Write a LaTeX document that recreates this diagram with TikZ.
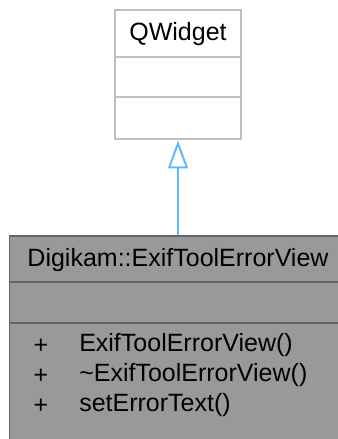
\documentclass[tikz,border=0pt]{standalone}
\usepackage{fontspec}
\setmainfont{Liberation Sans}
\usetikzlibrary{arrows.meta}
\definecolor{edgeblue}{HTML}{63B8FF}
\definecolor{classfill}{HTML}{999999}
\definecolor{classedge}{HTML}{666666}
\definecolor{baseedge}{HTML}{BFBFBF}
\begin{document}
\begin{tikzpicture}[x=0.75pt, y=-0.75pt,
    every node/.style={font=\fontsize{18.75}{22}\selectfont, inner sep=0pt},
    basebox/.style={draw=baseedge, fill=white, line width=1.2pt, minimum width=94.5pt, minimum height=96.75pt},
    viewbox/.style={draw=classedge, fill=classfill, line width=1.2pt, minimum width=248.6pt, minimum height=154.5pt},
    member/.style={anchor=west}]
  \useasboundingbox (0,0) rectangle (338,439);
  % base class QWidget
  \node[basebox] (base) at (178,74.5) {};
  \node (basename) at (178,34) {QWidget};
  \draw[baseedge, line width=1.2pt] (base.west |- 0,57) -- (base.east |- 0,57);
  \draw[baseedge, line width=1.2pt] (base.west |- 0,97) -- (base.east |- 0,97);
  % derived class
  \node[viewbox] (view) at (175.25,339) {};
  \node (viewname) at (178,260) {Digikam::ExifToolErrorView};
  \draw[classedge, line width=1.2pt] (view.west |- 0,282) -- (view.east |- 0,282);
  \draw[classedge, line width=1.2pt] (view.west |- 0,323) -- (view.east |- 0,323);
  % members
  \node (p1) at (41,346) {+};
  \node[member] (m1) at (79,345) {ExifToolErrorView()};
  \node (p2) at (41,376) {+};
  \node[member] (m2) at (79,375) {\textasciitilde ExifToolErrorView()};
  \node (p3) at (41,406) {+};
  \node[member] (m3) at (79,405) {setErrorText()};
  % inheritance
  \draw[edgeblue, line width=1.5pt, -{Triangle[open, length=21pt, width=15pt]}]
    (base.south |- view.north) -- ([yshift=-0.5pt]base.south);
\end{tikzpicture}
\end{document}
